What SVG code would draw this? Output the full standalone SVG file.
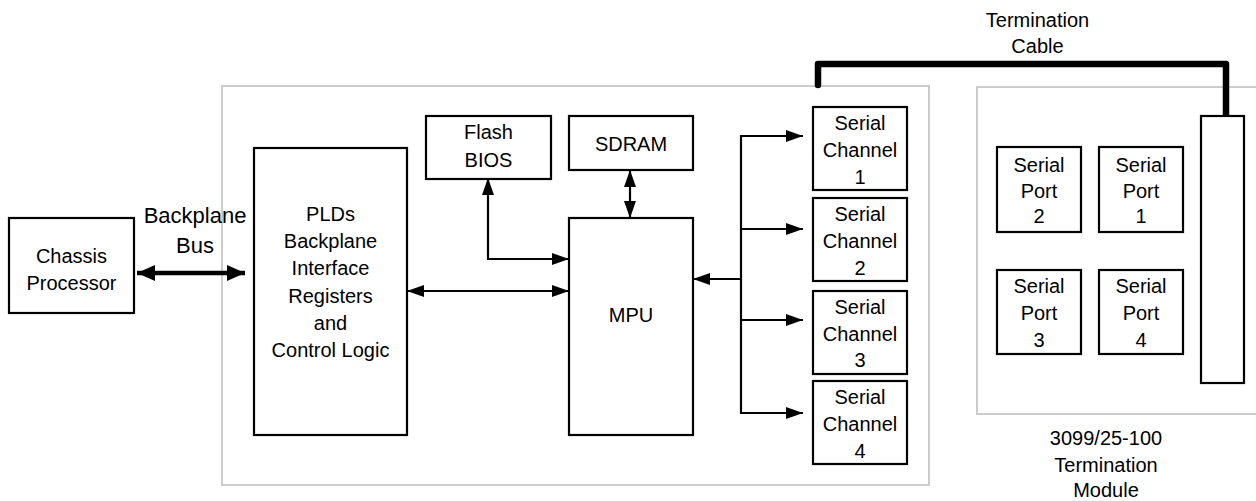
<svg xmlns="http://www.w3.org/2000/svg" width="1256" height="501" viewBox="0 0 1256 501">
<style>
.box{fill:#fff;stroke:#000;stroke-width:2.2}
.frame{fill:none;stroke:#cccccc;stroke-width:2}
text{font-family:"Liberation Sans",Arial,sans-serif;font-size:20px;fill:#000;text-anchor:middle}
.big{font-size:22px}
.ln{fill:none;stroke:#000;stroke-width:2.2}
.bus{fill:none;stroke:#000;stroke-width:4.5}
.cable{fill:none;stroke:#000;stroke-width:6.5;stroke-linecap:round;stroke-linejoin:round}
</style>
<defs>
<marker id="ah" markerUnits="userSpaceOnUse" markerWidth="18" markerHeight="12" refX="17" refY="6" orient="auto-start-reverse">
<path d="M0,0 L17,6 L0,12 Z" fill="#000"/>
</marker>
<marker id="ahb" markerUnits="userSpaceOnUse" markerWidth="19" markerHeight="16" refX="18" refY="8" orient="auto-start-reverse">
<path d="M0,0 L18,8 L0,16 Z" fill="#000"/>
</marker>
</defs>

<g id="frames">
<rect class="frame" x="222" y="86" width="707" height="399"/>
<rect class="frame" x="977" y="87" width="290" height="327"/>
</g>

<g id="connectors">
<line class="bus" x1="137" y1="273" x2="245" y2="273" marker-start="url(#ahb)" marker-end="url(#ahb)"/>
<polyline class="ln" points="488,178 488,259 569,259" marker-start="url(#ah)" marker-end="url(#ah)"/>
<line class="ln" x1="630" y1="170" x2="630" y2="218" marker-start="url(#ah)" marker-end="url(#ah)"/>
<line class="ln" x1="407" y1="291" x2="569" y2="291" marker-start="url(#ah)" marker-end="url(#ah)"/>
<line class="ln" x1="741" y1="279" x2="693" y2="279" marker-end="url(#ah)"/>
<line class="ln" x1="741" y1="135" x2="741" y2="414"/>
<line class="ln" x1="740" y1="136" x2="803" y2="136" marker-end="url(#ah)"/>
<line class="ln" x1="740" y1="229" x2="803" y2="229" marker-end="url(#ah)"/>
<line class="ln" x1="740" y1="320" x2="803" y2="320" marker-end="url(#ah)"/>
<line class="ln" x1="740" y1="413" x2="803" y2="413" marker-end="url(#ah)"/>
<polyline class="cable" points="818,85 818,64 1226,64 1226,116"/>
</g>

<g id="chassis">
<rect class="box" x="9" y="218" width="125" height="95"/>
<text x="71.5" y="263">Chassis</text>
<text x="71.5" y="290">Processor</text>
</g>
<g id="backplane-label">
<text class="big" x="195" y="223">Backplane</text>
<text class="big" x="195" y="253">Bus</text>
</g>
<g id="plds">
<rect class="box" x="254" y="148" width="153" height="287"/>
<text x="330.5" y="221">PLDs</text>
<text x="330.5" y="248">Backplane</text>
<text x="330.5" y="275">Interface</text>
<text x="330.5" y="303">Registers</text>
<text x="330.5" y="330">and</text>
<text x="330.5" y="357">Control Logic</text>
</g>
<g id="flash">
<rect class="box" x="426" y="116" width="125" height="63"/>
<text x="488.5" y="139">Flash</text>
<text x="488.5" y="167">BIOS</text>
</g>
<g id="sdram">
<rect class="box" x="569" y="116" width="124" height="54"/>
<text x="631" y="151">SDRAM</text>
</g>
<g id="mpu">
<rect class="box" x="569" y="218" width="124" height="217"/>
<text x="631" y="322">MPU</text>
</g>
<g id="ch1">
<rect class="box" x="813" y="107" width="94" height="83"/>
<text x="860" y="130">Serial</text><text x="860" y="157">Channel</text><text x="860" y="184">1</text>
</g>
<g id="ch2">
<rect class="box" x="813" y="198" width="94" height="83"/>
<text x="860" y="221">Serial</text><text x="860" y="248">Channel</text><text x="860" y="275">2</text>
</g>
<g id="ch3">
<rect class="box" x="813" y="291" width="94" height="83"/>
<text x="860" y="314">Serial</text><text x="860" y="341">Channel</text><text x="860" y="367">3</text>
</g>
<g id="ch4">
<rect class="box" x="813" y="381" width="94" height="83"/>
<text x="860" y="404">Serial</text><text x="860" y="431">Channel</text><text x="860" y="458">4</text>
</g>
<g id="port2">
<rect class="box" x="997" y="147" width="84" height="85"/>
<text x="1039" y="172">Serial</text><text x="1039" y="198">Port</text><text x="1039" y="223">2</text>
</g>
<g id="port1">
<rect class="box" x="1099" y="147" width="84" height="85"/>
<text x="1141" y="172">Serial</text><text x="1141" y="198">Port</text><text x="1141" y="223">1</text>
</g>
<g id="port3">
<rect class="box" x="997" y="270" width="84" height="84"/>
<text x="1039" y="293">Serial</text><text x="1039" y="320">Port</text><text x="1039" y="347">3</text>
</g>
<g id="port4">
<rect class="box" x="1099" y="270" width="84" height="84"/>
<text x="1141" y="293">Serial</text><text x="1141" y="320">Port</text><text x="1141" y="347">4</text>
</g>
<g id="connector">
<rect class="box" x="1201" y="116" width="43" height="267"/>
</g>
<g id="cable-label">
<text x="1037.5" y="27">Termination</text>
<text x="1037.5" y="53">Cable</text>
</g>
<g id="module-label">
<text x="1106" y="445">3099/25-100</text>
<text x="1106" y="472">Termination</text>
<text x="1106" y="497">Module</text>
</g>
</svg>
